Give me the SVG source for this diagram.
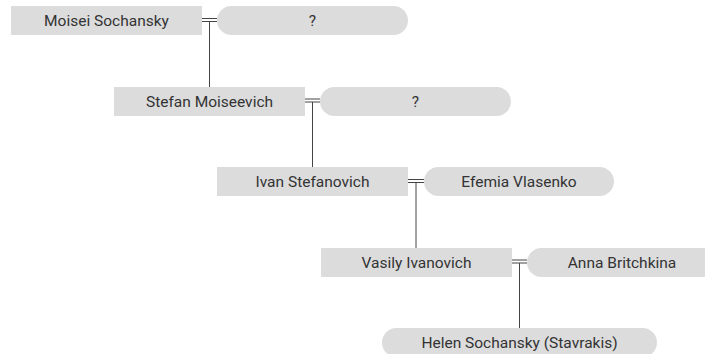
<svg xmlns="http://www.w3.org/2000/svg" width="705" height="354" viewBox="0 0 705 354">
<style>
.box{fill:#dcdcdd;}
.t{font-family:Roboto,"Liberation Sans",sans-serif;font-size:15.5px;fill:#333;text-anchor:middle;dominant-baseline:central;}
.c{stroke:#444;stroke-width:1;fill:none;}
</style>
<rect width="705" height="354" fill="#fff"/>
<g id="connectors">
<path class="c" d="M202 18.5H217M202 21.5H217M209.5 21.5V87"/>
<path class="c" d="M305 99H320M305 102H320M312.5 102V167"/>
<path class="c" d="M408 179.5H424M408 182.5H424M416 182.5V248"/>
<path class="c" d="M512 260H527M512 263H527M519.5 263V328"/>
</g>
<g id="moisei"><rect class="box" x="11" y="6" width="191" height="29"/><text class="t" x="106.5" y="20.5">Moisei Sochansky</text></g>
<g id="spouse1"><rect class="box" x="217" y="6" width="191" height="29" rx="14.5"/><text class="t" x="312.5" y="20.5">?</text></g>
<g id="stefan"><rect class="box" x="114" y="87" width="191" height="29"/><text class="t" x="209.5" y="101.5">Stefan Moiseevich</text></g>
<g id="spouse2"><rect class="box" x="320" y="87" width="191" height="29" rx="14.5"/><text class="t" x="415.5" y="101.5">?</text></g>
<g id="ivan"><rect class="box" x="217" y="167" width="191" height="29"/><text class="t" x="312.5" y="181.5">Ivan Stefanovich</text></g>
<g id="efemia"><rect class="box" x="424" y="167" width="190" height="29" rx="14.5"/><text class="t" x="519" y="181.5">Efemia Vlasenko</text></g>
<g id="vasily"><rect class="box" x="321" y="248" width="191" height="29"/><text class="t" x="416.5" y="262.5">Vasily Ivanovich</text></g>
<g id="anna"><rect class="box" x="527" y="248" width="190" height="29" rx="14.5"/><text class="t" x="622" y="262.5">Anna Britchkina</text></g>
<g id="helen"><rect class="box" x="382" y="328" width="275" height="29" rx="14.5"/><text class="t" x="519.5" y="342.5">Helen Sochansky (Stavrakis)</text></g>
</svg>
